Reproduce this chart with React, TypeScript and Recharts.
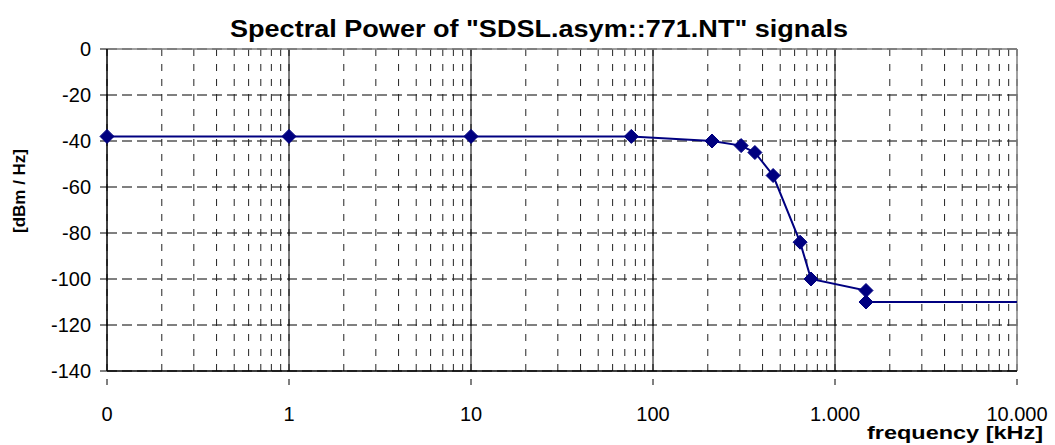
import React from "react";
import {
  CartesianGrid,
  Line,
  LineChart,
  ReferenceLine,
  XAxis,
  YAxis,
} from "recharts";

// frequency in kHz, spectral power in dBm/Hz
const frequencies = [0.1, 1, 10, 76, 211, 305, 363, 457, 643, 738, 1480, 1480, 10000];
const power = [-38, -38, -38, -38, -40, -42, -45, -55, -84, -100, -105, -110, -110];

// log axis: major decades with their labels, minors for the dashed grid
const majorTicks = [0.1, 1, 10, 100, 1000, 10000];
const majorLabels = ["0", "1", "10", "100", "1.000", "10.000"];
const minorSteps = [2, 3, 4, 5, 6, 7, 8, 9];
const yTicks = [-140, -120, -100, -80, -60, -40, -20, 0];

const minorTicks = majorTicks
  .slice(0, -1)
  .flatMap((d) => minorSteps.map((m) => +(d * m).toPrecision(3)));
const allTicks = [...majorTicks, ...minorTicks].sort((a, b) => a - b);

const data = frequencies.map((f, i) => ({ f, p: power[i] }));

const NAVY = "#000080";
const FONT = "'Liberation Sans', Arial, sans-serif";

const XTick = (props: any) => {
  const { x, y, payload } = props;
  const idx = majorTicks.indexOf(payload.value);
  if (idx < 0) return null;
  return (
    <g>
      <line x1={x} x2={x} y1={y} y2={y + 6} stroke="#000" />
      <text
        x={x}
        y={y + 42}
        textAnchor="middle"
        fontSize={20}
        fontFamily={FONT}
        fill="#000"
      >
        {majorLabels[idx]}
      </text>
    </g>
  );
};

const Diamond = (props: any) => {
  const { cx, cy, payload } = props;
  if (cx == null || cy == null || payload.f >= 10000) return null;
  const r = 7;
  return (
    <polygon
      points={`${cx},${cy - r} ${cx + r},${cy} ${cx},${cy + r} ${cx - r},${cy}`}
      fill={NAVY}
      stroke={NAVY}
    />
  );
};

export default function App() {
  return (
    <div style={{ position: "absolute", left: 0, top: 0, width: 1055, height: 445, background: "#fff" }}>
      <LineChart
        width={1055}
        height={445}
        data={data}
        margin={{ top: 49, right: 38, left: 0, bottom: 0 }}
      >
        <CartesianGrid vertical={false} stroke="#000" strokeDasharray="10 5" />
        <CartesianGrid horizontal={false} stroke="#222" strokeDasharray="7 8" />
        <XAxis
          dataKey="f"
          type="number"
          scale="log"
          domain={[0.1, 10000]}
          ticks={allTicks}
          interval={0}
          height={74}
          axisLine={{ stroke: "#000", strokeWidth: 1.5 }}
          tickLine={false}
          tick={<XTick />}
        />
        <YAxis
          type="number"
          domain={[-140, 0]}
          ticks={yTicks}
          interval={0}
          width={107}
          axisLine={{ stroke: "#000", strokeWidth: 1.5 }}
          tickLine={{ stroke: "#000" }}
          tickSize={7}
          tickMargin={9}
          tick={{ fontSize: 20, fontFamily: FONT, fill: "#000" }}
        />
        {majorTicks.slice(1, -1).map((m) => (
          <ReferenceLine key={m} x={m} stroke="#000" strokeWidth={1} />
        ))}
        <ReferenceLine y={0} stroke="#808080" strokeWidth={1.5} />
        <ReferenceLine x={10000} stroke="#808080" strokeWidth={1.5} />
        <Line
          type="linear"
          dataKey="p"
          stroke={NAVY}
          strokeWidth={2}
          dot={<Diamond />}
          activeDot={false}
          isAnimationActive={false}
        />
      </LineChart>
      <svg
        width={1055}
        height={445}
        style={{ position: "absolute", left: 0, top: 0, pointerEvents: "none" }}
      >
        <text
          x={539}
          y={37}
          textAnchor="middle"
          fontSize={23}
          fontWeight="bold"
          fontFamily={FONT}
          textLength={618}
          lengthAdjust="spacingAndGlyphs"
        >
          Spectral Power of "SDSL.asym::771.NT" signals
        </text>
        <text
          x={0}
          y={0}
          transform="translate(25,191) rotate(-90)"
          textAnchor="middle"
          fontSize={17}
          fontWeight="bold"
          fontFamily={FONT}
        >
          [dBm / Hz]
        </text>
        <text
          x={955}
          y={439}
          textAnchor="middle"
          fontSize={18}
          fontWeight="bold"
          fontFamily={FONT}
          textLength={176}
          lengthAdjust="spacingAndGlyphs"
        >
          frequency [kHz]
        </text>
      </svg>
    </div>
  );
}
